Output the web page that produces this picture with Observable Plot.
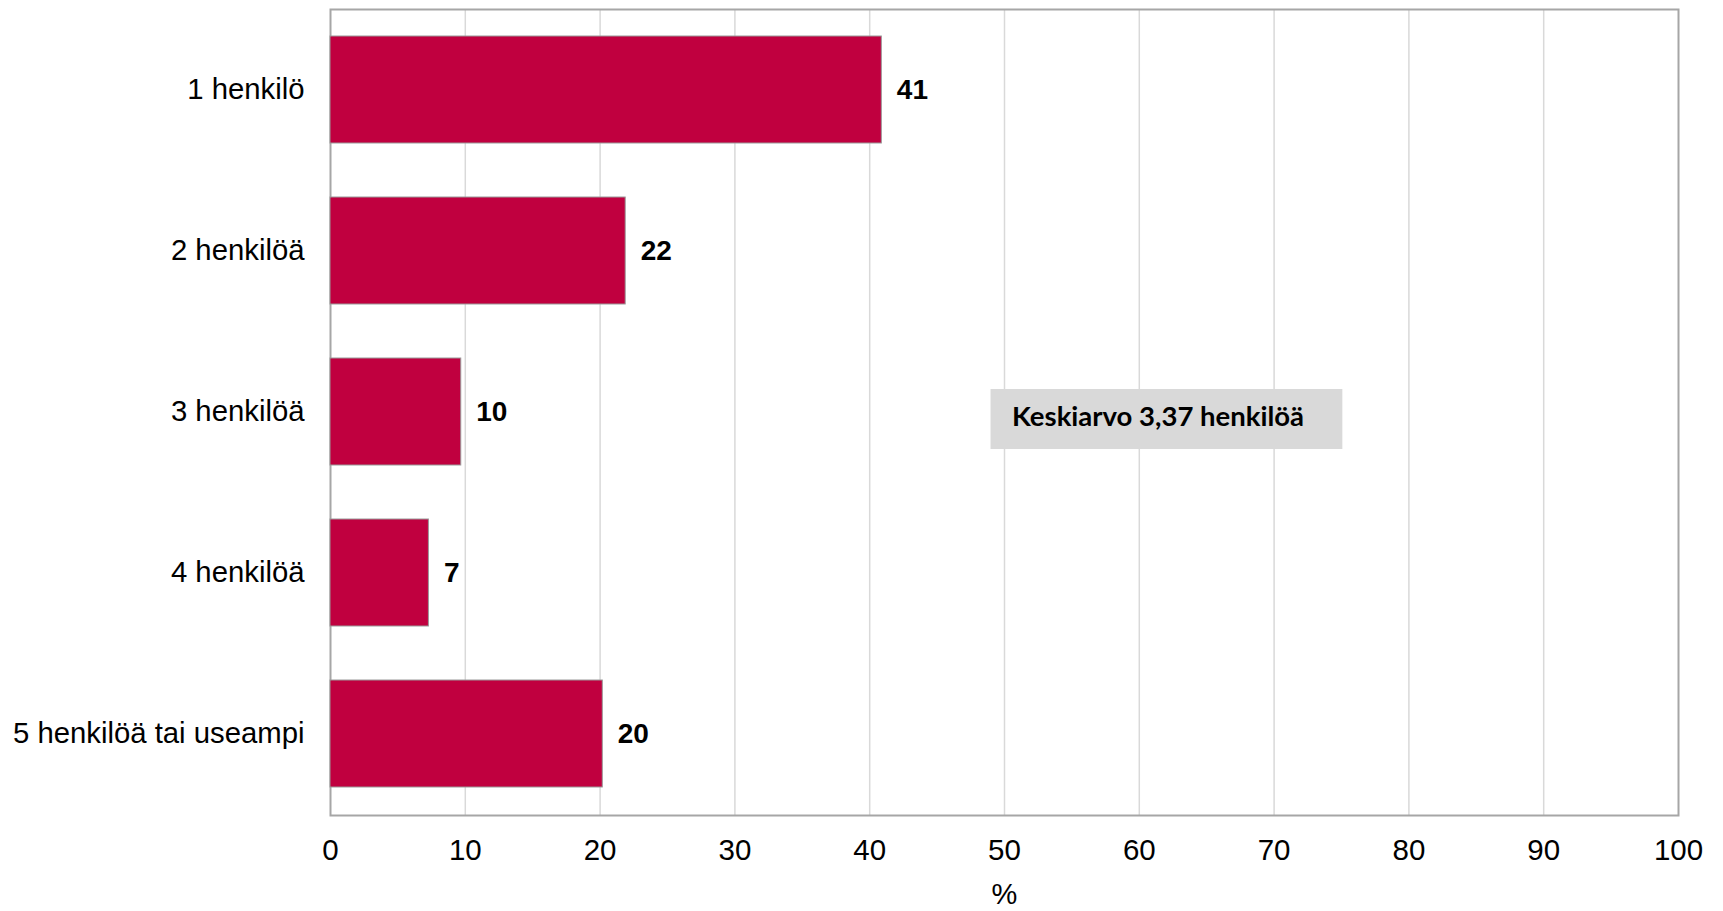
<!DOCTYPE html>
<html>
<head>
<meta charset="utf-8">
<script src="https://cdn.jsdelivr.net/npm/d3@7"></script>
<script src="https://cdn.jsdelivr.net/npm/@observablehq/plot@0.6"></script>
<style>
  html, body { margin: 0; padding: 0; background: #fff; }
  #chart svg { display: block; }
</style>
</head>
<body>
<div id="chart"></div>
<script>
const categories = ["1 henkilö", "2 henkilöä", "3 henkilöä", "4 henkilöä", "5 henkilöä tai useampi"];
const values = [40.9, 21.9, 9.7, 7.3, 20.2];
const valueLabels = ["41", "22", "10", "7", "20"];
const xTicks = [0, 10, 20, 30, 40, 50, 60, 70, 80, 90, 100];
const axisLabel = "%";
const noteText = "Keskiarvo 3,37 henkilöä";
const noteCategory = "3 henkilöä";
const noteStart = 49;
const noteEnd = 75.1;

const data = categories.map((c, i) => ({category: c, value: values[i], label: valueLabels[i]}));

const chart = Plot.plot({
  width: 1723,
  height: 911,
  marginLeft: 330,
  marginRight: 45,
  marginTop: 9,
  marginBottom: 96,
  style: {fontFamily: "'Liberation Sans', Arial, sans-serif", fontSize: "29px", color: "#000", background: "#fff"},
  x: {domain: [0, 100], ticks: xTicks, label: null},
  y: {domain: categories, paddingInner: 0.333, paddingOuter: 0.167, label: null},
  marks: [
    Plot.gridX(xTicks.slice(1, -1), {stroke: "#d9d9d9", strokeOpacity: 1, strokeWidth: 1.5}),
    Plot.frame({stroke: "#a6a6a6", strokeWidth: 2}),
    Plot.axisX({ticks: xTicks, tickSize: 0, tickPadding: 24, label: null, fontSize: 29.5}),
    Plot.axisY({tickSize: 0, tickPadding: 26, label: null, fontSize: 29.3}),
    Plot.barX(data, {x: "value", y: "category", fill: "#c0003f", stroke: "#9a9a9a", strokeWidth: 1}),
    Plot.text(data, {x: "value", y: "category", text: "label", textAnchor: "start", dx: 15, fontWeight: "bold", fontSize: 28, fill: "#000"}),
    Plot.ruleY([noteCategory], {x1: noteStart, x2: noteEnd, stroke: "#d9d9d9", strokeWidth: 60, dy: 7}),
    Plot.text([noteText], {x: noteStart, y: () => noteCategory, text: d => d, textAnchor: "start", dx: 21, dy: 5, fontFamily: "Lato, 'Open Sans', sans-serif", fontWeight: "bold", fontSize: 27.5, fill: "#000"}),
    Plot.text([axisLabel], {frameAnchor: "bottom", text: d => d, dy: 88, fontSize: 29, fill: "#000"})
  ]
});
document.getElementById("chart").appendChild(chart);
</script>
</body>
</html>
